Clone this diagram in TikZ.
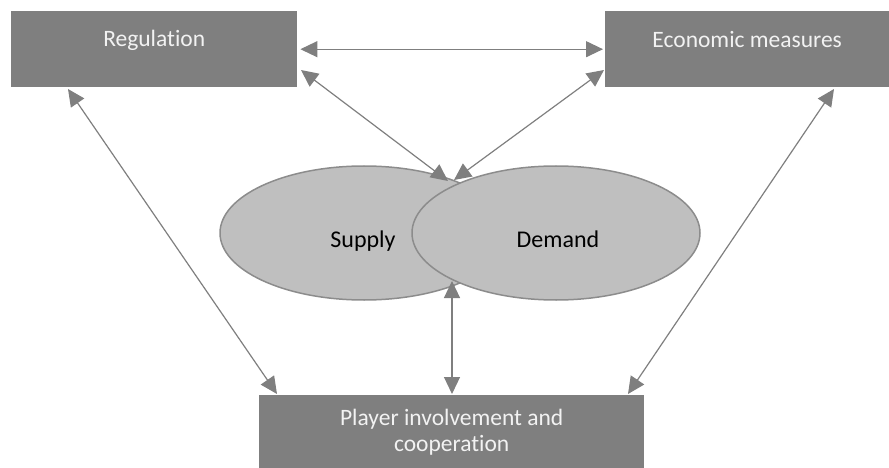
\documentclass[tikz,border=0pt]{standalone}
\usepackage{fontspec}
\setmainfont[Ligatures={NoCommon}]{Carlito}
\usetikzlibrary{arrows.meta,shapes.geometric}
\definecolor{boxgray}{HTML}{7F7F7F}
\definecolor{ellfill}{HTML}{BFBFBF}
\definecolor{elldraw}{HTML}{8C8C8C}
\definecolor{boxtext}{HTML}{F2F2F2}
\begin{document}
\begin{tikzpicture}[x=1pt,y=-1pt,
  box/.style={fill=boxgray, draw=none, inner sep=0pt, anchor=north west},
  boxlabel/.style={text=boxtext, anchor=base, inner sep=0pt, font=\fontsize{23.5}{25.5}\selectfont, align=center},
  ell/.style={ellipse, fill=ellfill, draw=elldraw, line width=1.5pt, inner sep=0pt,
    minimum width=288pt, minimum height=134pt},
  elllabel/.style={text=black, anchor=base, inner sep=0pt, font=\fontsize{24}{26}\selectfont},
  conn/.style={draw=boxgray, line width=1.2pt,
    {Triangle[length=17pt,width=16pt,fill=boxgray]}-{Triangle[length=17pt,width=16pt,fill=boxgray]}}
]
\useasboundingbox (0,0) rectangle (889,468);

% boxes
\node[box, minimum width=286pt, minimum height=76pt] (reg) at (11,11) {};
\node[box, minimum width=284pt, minimum height=76pt] (eco) at (605,11) {};
\node[box, minimum width=385pt, minimum height=73pt] (play) at (259,395) {};

\node[boxlabel] (regtxt) at (reg.north |- 0,47) {Regulation};
\node[boxlabel] (ecotxt) at (eco.north |- 0,48) {Economic measures};
\node[boxlabel, anchor=north] (playtxt) at (play.north |- 0,409) {Player involvement and\\cooperation};

% overlapping ellipses
\node[ell] (supply) at (364,233) {};
\node[ell] (demand) at (556,233) {};
\node[elllabel] (supplytxt) at (363,247) {Supply};
\node[elllabel] (demandtxt) at (558,247) {Demand};

% connector end points
\coordinate (regR) at (301,70);
\coordinate (ecoL) at (604,70);
\coordinate (jTopL) at (448,181);
\coordinate (jTopR) at (454,180);
\coordinate (jBot) at (452,281);
\coordinate (regB) at (68,89);
\coordinate (ecoB) at (834,89);
\coordinate (plL) at (277,394);
\coordinate (plM) at (452,394);
\coordinate (plR) at (628,394);

% connectors
\draw[conn] ([xshift=3pt]reg.east) -- ([xshift=-2pt]eco.west);
\draw[conn] (regR) -- (jTopL);
\draw[conn] (ecoL) -- (jTopR);
\draw[conn] (regB) -- (plL);
\draw[conn] (ecoB) -- (plR);
\draw[conn] (jBot) -- (plM);
\end{tikzpicture}
\end{document}
